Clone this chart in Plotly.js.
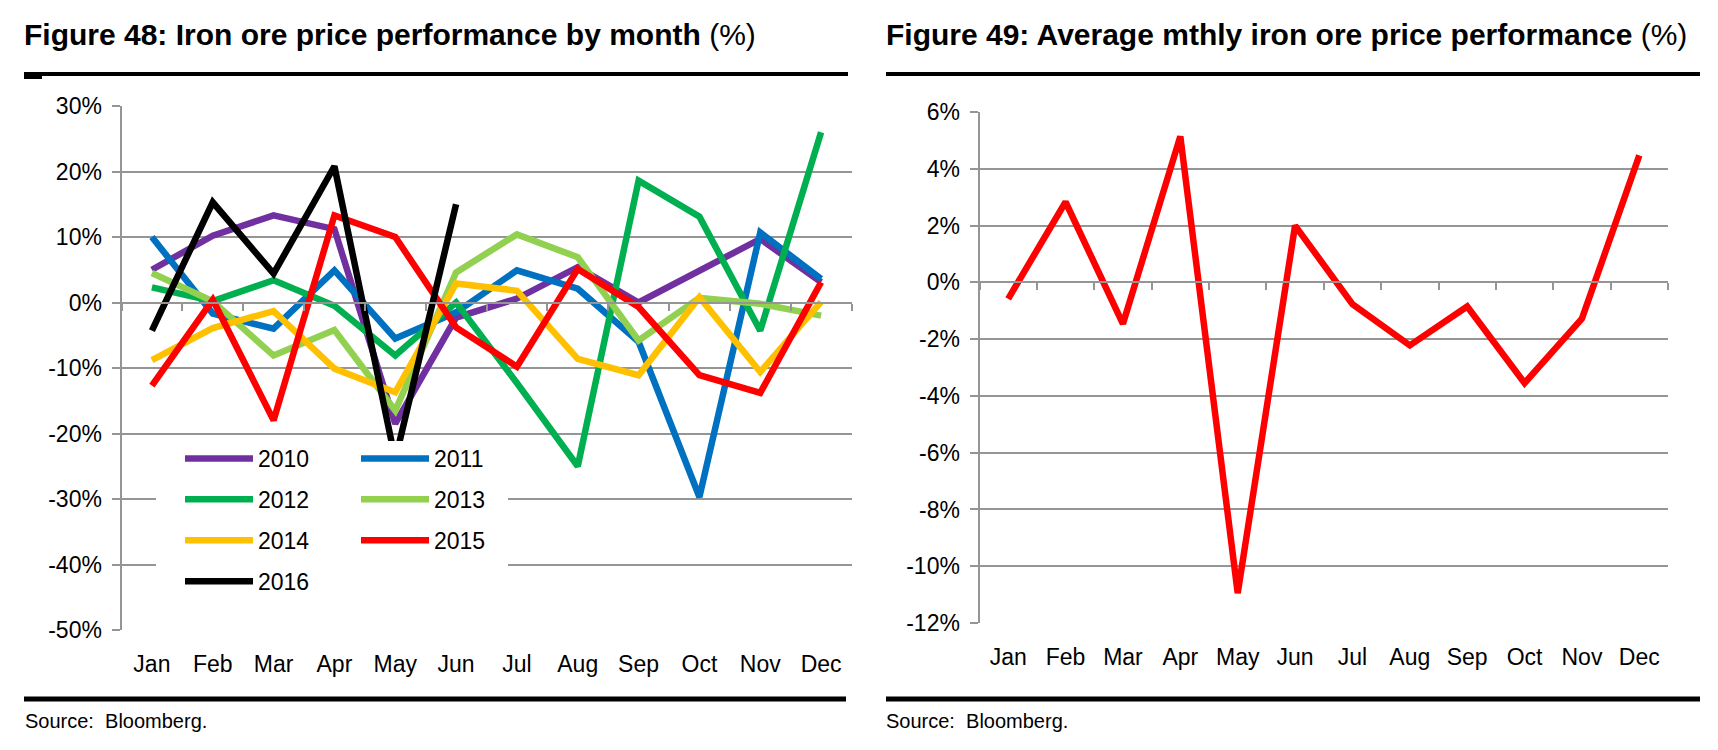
<!DOCTYPE html>
<html><head><meta charset="utf-8">
<script src="https://cdn.plot.ly/plotly-3.0.1.min.js"></script>
<style>html,body{margin:0;padding:0;background:#fff}#chart{width:1718px;height:750px}</style>
</head><body><div id="chart"></div>
<script>
// ---------- data ----------
const months = ['Jan','Feb','Mar','Apr','May','Jun','Jul','Aug','Sep','Oct','Nov','Dec'];
const years = ['2010','2011','2012','2013','2014','2015','2016'];
const y2010 = [5.0, 10.2, 13.3, 11.2, -18.5, -2.3, 0.6, 5.4, 0.0, 4.9, 9.7, 3.1];
const y2011 = [10.0, -1.7, -4.0, 4.9, -5.5, -1.5, 4.9, 2.1, -6.0, -29.7, 10.7, 3.6];
const y2012 = [2.3, 0.2, 3.4, -0.5, -8.1, 0.0, -12.3, -25.0, 18.6, 13.1, -4.3, 26.0];
const y2013 = [4.5, 0.2, -8.1, -4.2, -16.5, 4.6, 10.4, 6.9, -5.8, 0.7, -0.2, -2.0];
const y2014 = [-8.8, -3.9, -1.3, -10.1, -13.7, 2.9, 1.8, -8.6, -11.1, 0.8, -10.6, 0.1];
const y2015 = [-12.7, 0.4, -18.0, 13.3, 10.0, -3.8, -9.8, 5.1, -0.7, -11.1, -13.8, 3.1];
const y2016 = [-4.3, 15.3, 4.4, 20.8, -24.0, 15.0, null, null, null, null, null, null];
const avgMonthly = [-0.58, 2.83, -1.46, 5.14, -10.95, 2.0, -0.77, -2.22, -0.85, -3.55, -1.28, 4.47];
const leftTicks = [-50, -40, -30, -20, -10, 0, 10, 20, 30];
const rightTicks = [-12, -10, -8, -6, -4, -2, 0, 2, 4, 6];

// ---------- style ----------
const W = 1718, H = 750;
const NARROW = '"Liberation Sans", Arial, sans-serif';
const SANS = '"Liberation Sans", Arial, sans-serif';
const GRID = '#959595';
const colors = ['#7030A0', '#0070C0', '#00B050', '#92D050', '#FFC000', '#FF0000', '#000000'];
const seriesVals = [y2010, y2011, y2012, y2013, y2014, y2015, y2016];
const legendOf = ['legend', 'legend2', 'legend', 'legend2', 'legend', 'legend2', 'legend'];
const px = p => p / W;
const py = p => 1 - p / H;
const L = {x0: 121.5, x1: 851.5, y0: 106, y1: 630};
const R = {x0: 979.5, x1: 1668, y0: 112, y1: 623};
const leftRange = [-50, 30], rightRange = [-12, 6];
const zeroPx = (b, r) => b.y0 + (r[1] - 0) / (r[1] - r[0]) * (b.y1 - b.y0);

const traces = [];
years.forEach((yr, i) => {
  traces.push({
    type: 'scatter', mode: 'lines', name: yr, x: months, y: seriesVals[i],
    xaxis: 'x', yaxis: 'y', line: {color: colors[i], width: 6.5},
    legend: legendOf[i], legendgroup: yr, connectgaps: false, hoverinfo: 'skip'
  });
});
traces.push({type: 'scatter', mode: 'lines', name: 'avg', x: months, y: avgMonthly,
  xaxis: 'x2', yaxis: 'y2', line: {color: '#FF0000', width: 6.5}, showlegend: false, hoverinfo: 'skip'});
// empty traces to register the zero-line tick axes
traces.push({type: 'scatter', x: [], y: [], xaxis: 'x3', yaxis: 'y', showlegend: false, hoverinfo: 'skip'});
traces.push({type: 'scatter', x: [], y: [], xaxis: 'x4', yaxis: 'y2', showlegend: false, hoverinfo: 'skip'});

const bounds = months.map((m, i) => i - 0.5).concat([months.length - 0.5]);
const tickFont = {family: NARROW, size: 23, color: '#000'};

function yAxis(b, range, ticks, anchor) {
  return {
    domain: [py(b.y1), py(b.y0)], range: range, anchor: anchor,
    tickmode: 'array', tickvals: ticks, ticktext: ticks.map(v => String(v) + '%'),
    showgrid: true, gridcolor: GRID, gridwidth: 2, zeroline: false,
    showline: true, linecolor: GRID, linewidth: 2,
    ticks: 'outside', ticklen: 8, tickwidth: 2, tickcolor: GRID,
    tickfont: tickFont, ticklabelstandoff: 5, fixedrange: true
  };
}
function xAxis(b, anchor) {
  return {
    domain: [px(b.x0), px(b.x1)], anchor: anchor, type: 'category',
    range: [-0.5, months.length - 0.5], showgrid: false, zeroline: false,
    showline: false, ticks: '', tickfont: tickFont, ticklabelstandoff: 18, fixedrange: true
  };
}
function zeroAxis(b, range, over) {
  return {
    domain: [px(b.x0), px(b.x1)], overlaying: over, anchor: 'free',
    position: py(zeroPx(b, range)), range: [-0.5, months.length - 0.5],
    tickmode: 'array', tickvals: bounds, showticklabels: false, showgrid: false, zeroline: false,
    showline: true, linecolor: GRID, linewidth: 2,
    ticks: 'outside', ticklen: 7, tickwidth: 2, tickcolor: GRID, fixedrange: true
  };
}

const lineShape = (x0, x1, y, w) => ({type: 'line', xref: 'paper', yref: 'paper',
  x0: px(x0), x1: px(x1), y0: py(y), y1: py(y), line: {color: '#000', width: w}});

const legendBase = {xanchor: 'left', y: py(437), yanchor: 'top', bgcolor: 'rgba(0,0,0,0)',
  font: {family: NARROW, size: 23, color: '#000'}, itemwidth: 68, tracegroupgap: 8,
  traceorder: 'grouped', itemclick: false, itemdoubleclick: false};

const layout = {
  width: W, height: H, margin: {l: 0, r: 0, t: 0, b: 0},
  paper_bgcolor: '#fff', plot_bgcolor: 'rgba(0,0,0,0)', showlegend: true,
  xaxis: xAxis(L, 'y'), yaxis: yAxis(L, leftRange, leftTicks, 'x'),
  xaxis2: xAxis(R, 'y2'), yaxis2: yAxis(R, rightRange, rightTicks, 'x2'),
  xaxis3: zeroAxis(L, leftRange, 'x'), xaxis4: zeroAxis(R, rightRange, 'x2'),
  legend: Object.assign({x: px(180)}, legendBase),
  legend2: Object.assign({x: px(356)}, legendBase),
  shapes: [
    {type: 'rect', xref: 'paper', yref: 'paper', x0: px(156), x1: px(508), y0: py(603), y1: py(441),
      fillcolor: '#fff', line: {width: 0}, layer: 'above'},
    lineShape(24, 848, 74, 4), lineShape(886, 1700, 74, 4),
    {type: 'rect', xref: 'paper', yref: 'paper', x0: px(24), x1: px(42), y0: py(79), y1: py(74),
      fillcolor: '#000', line: {width: 0}},
    lineShape(24, 846, 699, 5), lineShape(886, 1700, 699, 5)
  ],
  annotations: [
    {xref: 'paper', yref: 'paper', x: px(22), y: py(35), xanchor: 'left', yanchor: 'middle', showarrow: false,
      text: '<b>Figure 48: Iron ore price performance by month</b> (%)', font: {family: SANS, size: 30, color: '#000'}},
    {xref: 'paper', yref: 'paper', x: px(884), y: py(35), xanchor: 'left', yanchor: 'middle', showarrow: false,
      text: '<b>Figure 49: Average mthly iron ore price performance</b> (%)', font: {family: SANS, size: 30, color: '#000'}},
    {xref: 'paper', yref: 'paper', x: px(23), y: py(721), xanchor: 'left', yanchor: 'middle', showarrow: false,
      text: 'Source:  Bloomberg.', font: {family: SANS, size: 20, color: '#000'}},
    {xref: 'paper', yref: 'paper', x: px(884), y: py(721), xanchor: 'left', yanchor: 'middle', showarrow: false,
      text: 'Source:  Bloomberg.', font: {family: SANS, size: 20, color: '#000'}}
  ]
};

Plotly.newPlot('chart', traces, layout, {staticPlot: true, displayModeBar: false});
</script></body></html>
